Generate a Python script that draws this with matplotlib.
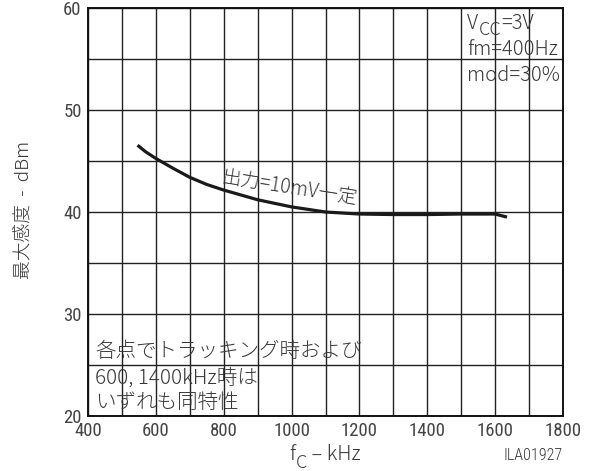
import matplotlib
matplotlib.use("Agg")
import matplotlib.pyplot as plt
from matplotlib.patches import Rectangle
from matplotlib import font_manager

names = {f.name for f in font_manager.fontManager.ttflist}
narrow = next((n for n in ['Roboto Condensed', 'Archivo Narrow', 'Barlow Semi Condensed',
                           'Asap Condensed', 'Liberation Sans'] if n in names), 'DejaVu Sans')
CJK = ['Noto Sans CJK JP', 'DejaVu Sans']
NAR = [narrow, 'Noto Sans CJK JP', 'DejaVu Sans']
plt.rcParams['font.family'] = CJK
plt.rcParams['font.weight'] = 300

# data
freq_khz = [546, 570, 600, 650, 700, 750, 800, 900, 1000, 1100, 1200, 1300, 1400, 1500, 1600, 1635]
sens_dbm = [46.55, 45.9, 45.25, 44.3, 43.4, 42.7, 42.15, 41.2, 40.5, 40.0, 39.8, 39.75, 39.75,
            39.8, 39.8, 39.5]
xticks = [400, 600, 800, 1000, 1200, 1400, 1600, 1800]
yticks = [20, 30, 40, 50, 60]
curve_label = '出力=10mV一定'
vcc_parts = ['V', 'CC', '=3V']
cond_lines = ['fm=400Hz', 'mod=30%']
note_lines = ['各点でトラッキング時および', '600, 1400kHz時は', 'いずれも同特性']
xlabel_parts = ['f', 'C', ' – kHz']
ylabel = '最大感度  -  dBm'

TXT = '#383838'
W, H = 611, 471
fig = plt.figure(figsize=(W / 100, H / 100), dpi=100)
ax = fig.add_axes([88 / W, (H - 416) / H, 475 / W, 408 / H])
ax.set_xlim(400, 1800)
ax.set_ylim(20, 60)
ax.set_xticks(xticks)
ax.set_xticks(range(500, 1800, 200), minor=True)
ax.set_yticks(yticks)
ax.set_yticks(range(25, 60, 10), minor=True)
ax.grid(True, which='both', color='#222222', linewidth=1.0, zorder=0)
ax.tick_params(which='both', length=0, colors='#444444')
ax.tick_params(axis='x', pad=4)
ax.tick_params(axis='y', pad=4.5)
for lab in ax.get_xticklabels() + ax.get_yticklabels():
    lab.set_family(NAR)
    lab.set_fontsize(13.5)
    lab.set_fontweight(400)
for s in ax.spines.values():
    s.set_linewidth(1.4)
    s.set_color('#111111')

# white boxes masking grid
ax.add_patch(Rectangle((1505, 52.5), 295, 7.5, facecolor='white', edgecolor='none', zorder=1.5))
ax.add_patch(Rectangle((402, 25.05), 793, 2.7, facecolor='white', edgecolor='none', zorder=1.5))
ax.add_patch(Rectangle((402, 20.1), 493, 4.95, facecolor='white', edgecolor='none', zorder=1.5))

ax.plot(freq_khz, sens_dbm, color='#1a1a1a', linewidth=2.3, zorder=3,
        solid_joinstyle='round', solid_capstyle='butt')

ax.text(995, 42.35, curve_label, rotation=-9, ha='center', va='center', fontsize=14,
        color=TXT, zorder=4, rotation_mode='anchor')


def sub_chain(first, parts, size, subsize, drop):
    """first: Text artist of main part; parts: [sub, rest]"""
    sub = ax.annotate(parts[0], xy=(1, 0), xycoords=first, xytext=(0.3, -drop),
                      textcoords='offset points', ha='left', va='bottom', fontsize=subsize,
                      color=TXT, zorder=4, annotation_clip=False)
    rest = ax.annotate(parts[1], xy=(1, 0), xycoords=(sub, first), xytext=(0.3, 0),
                       textcoords='offset points', ha='left', va='bottom', fontsize=size,
                       color=TXT, zorder=4, annotation_clip=False)
    return sub, rest


v = ax.text(1517, 58.5, vcc_parts[0], ha='left', va='center', fontsize=14.5, color=TXT, zorder=4)
sub_chain(v, vcc_parts[1:], 14.5, 13, 3.8)

for txt, yv in zip(cond_lines, [55.9, 53.4]):
    ax.text(1517, yv, txt, ha='left', va='center', fontsize=14.5, color=TXT, zorder=4)

for txt, yv in zip(note_lines, [26.3, 23.75, 21.3]):
    ax.text(421, yv, txt, ha='left', va='center', fontsize=14.8, color=TXT, zorder=4)

f0 = fig.text(289 / W, 1 - 455 / H, xlabel_parts[0], ha='left', va='center',
              fontsize=14.5, color=TXT)
sub_chain(f0, xlabel_parts[1:], 14.5, 13, 4.5)

fig.text(563 / W, 1 - 455 / H, 'ILA01927', ha='right', va='center', fontsize=11.5,
         color=TXT, family=NAR)
fig.text(25 / W, 1 - 210 / H, ylabel, ha='center', va='center', rotation=90,
         fontsize=13.5, color=TXT)

fig.savefig('out.png', dpi=100)
